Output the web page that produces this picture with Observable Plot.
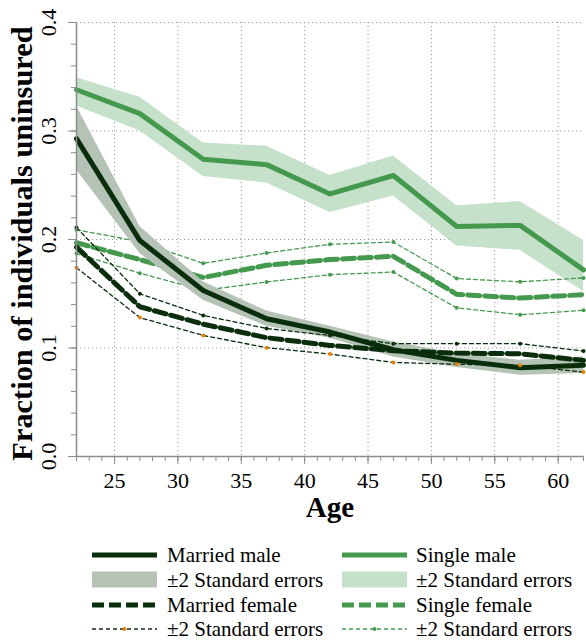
<!DOCTYPE html>
<html>
<head>
<meta charset="utf-8">
<script src="https://cdn.jsdelivr.net/npm/d3@7"></script>
<script src="https://cdn.jsdelivr.net/npm/@observablehq/plot@0.6"></script>
<style>
  body { margin: 0; background: #fff; }
  #chart { width: 586px; }
  #chart svg { display: block; }
  #chart text { font-family: "Liberation Serif", "Times New Roman", serif; }
</style>
</head>
<body>
<div id="chart"></div>
<script>
// Age groups (x positions of every series)
const ages = [22, 27, 32, 37, 42, 47, 52, 57, 62];

// Married male: point estimate and ±2 s.e. band
const marriedMale   = [0.293, 0.199, 0.153, 0.127, 0.1147, 0.0984, 0.0886, 0.0818, 0.084];
const marriedMaleLo = [0.264, 0.187, 0.144, 0.120, 0.109, 0.0917, 0.082, 0.0750, 0.0765];
const marriedMaleHi = [0.323, 0.212, 0.161, 0.134, 0.120, 0.1055, 0.095, 0.0886, 0.0917];

// Single male: point estimate and ±2 s.e. band
const singleMale   = [0.338, 0.316, 0.274, 0.269, 0.242, 0.259, 0.212, 0.213, 0.172];
const singleMaleLo = [0.323, 0.300, 0.258, 0.252, 0.225, 0.240, 0.194, 0.190, 0.152];
const singleMaleHi = [0.349, 0.331, 0.289, 0.286, 0.259, 0.277, 0.231, 0.235, 0.199];

// Married female: point estimate and ±2 s.e. bounds
const marriedFemale   = [0.193, 0.138, 0.122, 0.1095, 0.1024, 0.0975, 0.0953, 0.0947, 0.0886];
const marriedFemaleHi = [0.211, 0.150, 0.130, 0.118, 0.1116, 0.104, 0.104, 0.104, 0.0972];
const marriedFemaleLo = [0.174, 0.128, 0.1116, 0.1003, 0.0944, 0.0867, 0.0850, 0.0840, 0.0778];

// Single female: point estimate and ±2 s.e. bounds
const singleFemale   = [0.197, 0.1815, 0.165, 0.1762, 0.1815, 0.1845, 0.1495, 0.146, 0.1492];
const singleFemaleHi = [0.209, 0.198, 0.178, 0.1876, 0.1956, 0.1977, 0.164, 0.161, 0.1646];
const singleFemaleLo = [0.187, 0.169, 0.153, 0.1609, 0.1676, 0.170, 0.137, 0.1307, 0.1347];

// Axis ticks
const xMajor = [25, 30, 35, 40, 45, 50, 55, 60];
const xMinor = d3.range(22, 63);
const yMajor = [0.0, 0.1, 0.2, 0.3, 0.4];
const yMinor = d3.range(0, 21).map(i => i * 0.02);

// Legend entries
const legendLabels = [
  ["Married male", "Single male"],
  ["\u00b12 Standard errors", "\u00b12 Standard errors"],
  ["Married female", "Single female"],
  ["\u00b12 Standard errors", "\u00b12 Standard errors"]
];

const dark = "#0a2e0c";
const green = "#45994f";
const darkBand = "#b4c3b6";
const greenBand = "#c6e1ca";
const orange = "#e8820c";
const axisGray = "#8c8c8c";
const serif = "Liberation Serif";

const rows = ages.map((age, i) => ({
  age,
  mm: marriedMale[i], mmLo: marriedMaleLo[i], mmHi: marriedMaleHi[i],
  sm: singleMale[i], smLo: singleMaleLo[i], smHi: singleMaleHi[i],
  mf: marriedFemale[i], mfLo: marriedFemaleLo[i], mfHi: marriedFemaleHi[i],
  sf: singleFemale[i], sfLo: singleFemaleLo[i], sfHi: singleFemaleHi[i]
}));

const thin = {strokeWidth: 1.3, strokeDasharray: "4,3"};
const thick = {strokeWidth: 5, strokeDasharray: "12,5"};
const txt = {fontFamily: serif, fill: "#000"};

const chart = Plot.plot({
  width: 586,
  height: 530,
  marginLeft: 76,
  marginRight: 3,
  marginTop: 22,
  marginBottom: 74,
  x: {domain: [22, 62]},
  y: {domain: [0, 0.4]},
  style: {fontFamily: serif, background: "#fff", color: "#000"},
  marks: [
    // dotted grid
    Plot.gridX(xMajor, {stroke: "#9a9a9a", strokeOpacity: 1, strokeDasharray: "1.2,2.8"}),
    Plot.gridY(yMajor.slice(1), {stroke: "#9a9a9a", strokeOpacity: 1, strokeDasharray: "1.2,2.8"}),

    // single male
    Plot.areaY(rows, {x: "age", y1: "smLo", y2: "smHi", fill: greenBand}),
    Plot.line(rows, {x: "age", y: "sm", stroke: green, strokeWidth: 5}),

    // single female with its bounds
    Plot.line(rows, {x: "age", y: "sfHi", stroke: green, ...thin}),
    Plot.line(rows, {x: "age", y: "sfLo", stroke: green, ...thin}),
    Plot.dot(rows, {x: "age", y: "sfHi", r: 2, fill: green}),
    Plot.dot(rows, {x: "age", y: "sfLo", r: 2, fill: green}),
    Plot.line(rows, {x: "age", y: "sf", stroke: green, ...thick}),

    // married male
    Plot.areaY(rows, {x: "age", y1: "mmLo", y2: "mmHi", fill: darkBand}),
    Plot.line(rows, {x: "age", y: "mm", stroke: dark, strokeWidth: 5}),

    // married female with its bounds
    Plot.line(rows, {x: "age", y: "mfHi", stroke: dark, ...thin}),
    Plot.line(rows, {x: "age", y: "mfLo", stroke: dark, ...thin}),
    Plot.dot(rows, {x: "age", y: "mfHi", r: 2, fill: dark}),
    Plot.dot(rows, {x: "age", y: "mfLo", r: 2, fill: orange}),
    Plot.line(rows, {x: "age", y: "mf", stroke: dark, ...thick}),

    // axes: lines, major and minor ticks
    Plot.ruleX([22], {stroke: axisGray, strokeWidth: 1.5}),
    Plot.ruleY([0], {stroke: axisGray, strokeWidth: 1.5}),
    Plot.axisX(xMinor, {tickSize: 5, fill: "none", stroke: axisGray, label: null}),
    Plot.axisX(xMajor, {tickSize: 8, fill: "none", stroke: axisGray, label: null}),
    Plot.axisY(yMinor, {tickSize: 5, fill: "none", stroke: axisGray, label: null}),
    Plot.axisY(yMajor, {tickSize: 8, fill: "none", stroke: axisGray, label: null}),

    // tick labels
    Plot.text(xMajor, {x: d => d, text: d => String(d), frameAnchor: "bottom", dy: 24, fontSize: 22, lineAnchor: "middle", ...txt}),
    Plot.text(yMajor, {y: d => d, text: d => d.toFixed(1), frameAnchor: "left", dx: -28, rotate: -90, fontSize: 22, textAnchor: "middle", lineAnchor: "middle", ...txt}),

    // axis titles
    Plot.text(["Age"], {text: d => d, frameAnchor: "bottom", dy: 51, fontSize: 29, fontWeight: "bold", lineAnchor: "middle", ...txt}),
    Plot.text(["Fraction of individuals uninsured"], {text: d => d, frameAnchor: "left", dx: -54, dy: 4, rotate: -90, fontSize: 30.4, fontWeight: "bold", textAnchor: "middle", lineAnchor: "middle", ...txt})
  ]
});

document.getElementById("chart").appendChild(chart);

// Legend below the plot
const legend = d3.create("svg")
  .attr("width", 586)
  .attr("height", 113)
  .style("font-family", serif)
  .style("font-size", "21px");

const colX = [{sw: 92, tx: 167}, {sw: 342, tx: 416}];
const rowMid = [25, 49.5, 75, 99];
const rowBase = [31.7, 56.7, 81.7, 106];
const swLen = 65;

colX.forEach((c, ci) => {
  const col = ci === 0 ? dark : green;
  const band = ci === 0 ? darkBand : greenBand;
  const dotCol = ci === 0 ? orange : green;
  // row 1: solid line
  legend.append("line").attr("x1", c.sw).attr("x2", c.sw + swLen)
    .attr("y1", rowMid[0]).attr("y2", rowMid[0])
    .attr("stroke", col).attr("stroke-width", 5);
  // row 2: band
  legend.append("rect").attr("x", c.sw).attr("y", rowMid[1] - 8)
    .attr("width", swLen).attr("height", 16).attr("fill", band);
  // row 3: thick dashed line
  legend.append("line").attr("x1", c.sw).attr("x2", c.sw + swLen)
    .attr("y1", rowMid[2]).attr("y2", rowMid[2])
    .attr("stroke", col).attr("stroke-width", 5).attr("stroke-dasharray", "12,5");
  // row 4: thin dashed line with a marker
  legend.append("line").attr("x1", c.sw).attr("x2", c.sw + swLen)
    .attr("y1", rowMid[3]).attr("y2", rowMid[3])
    .attr("stroke", col).attr("stroke-width", 1.3).attr("stroke-dasharray", "4,3");
  legend.append("circle").attr("cx", c.sw + swLen / 2).attr("cy", rowMid[3])
    .attr("r", 2).attr("fill", dotCol);
  legendLabels.forEach((pair, ri) => {
    legend.append("text").attr("x", c.tx).attr("y", rowBase[ri])
      .attr("fill", "#000").text(pair[ci]);
  });
});

document.getElementById("chart").appendChild(legend.node());
</script>
</body>
</html>
